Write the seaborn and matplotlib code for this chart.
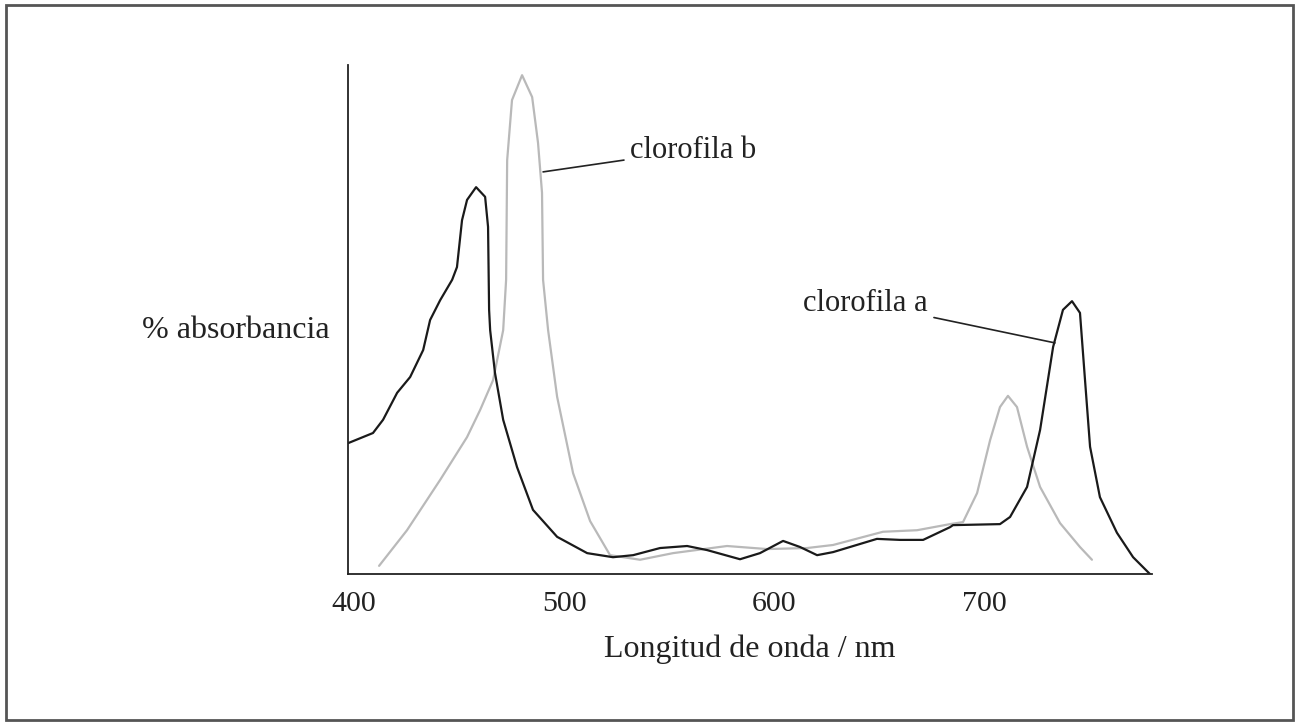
import matplotlib
matplotlib.use('Agg')
import matplotlib.pyplot as plt
import seaborn as sns
import pandas as pd
from matplotlib.patches import Rectangle
from matplotlib.ticker import FixedLocator

# valores (longitud de onda en nm, absorbancia relativa)
nm_a = [397.1, 409.0, 413.8, 420.5, 426.7, 432.9, 436.2, 441.0, 446.7, 449.0, 451.4, 453.8,
        458.1, 462.4, 463.8, 464.3, 464.8, 467.1, 471.0, 477.6, 485.2, 496.7, 511.0, 523.3,
        532.9, 545.7, 558.6, 568.1, 583.8, 593.3, 604.3, 612.4, 620.5, 628.1, 649.0, 660.0,
        671.0, 683.8, 685.2, 707.6, 712.4, 720.5, 726.7, 732.9, 737.6, 741.9, 745.7, 748.1,
        750.5, 755.2, 763.3, 771.0, 779.0]
abs_a = [25.7, 27.7, 30.3, 35.6, 38.7, 44.0, 49.9, 53.8, 57.8, 60.3, 69.5, 73.5,
         76.0, 74.1, 68.2, 51.9, 47.9, 39.5, 30.3, 21.0, 12.6, 7.3, 4.1, 3.3,
         3.7, 5.1, 5.5, 4.7, 2.9, 4.1, 6.5, 5.3, 3.7, 4.3, 6.9, 6.7,
         6.7, 9.2, 9.6, 9.8, 11.2, 17.1, 28.3, 44.6, 51.9, 53.6, 51.3, 38.1,
         25.0, 15.1, 8.1, 3.3, 0.0]

nm_b = [411.9, 425.2, 441.0, 453.8, 460.0, 466.2, 471.0, 472.4, 472.9, 475.2, 480.0, 484.8,
        487.6, 489.5, 490.0, 492.4, 496.7, 504.3, 512.4, 521.9, 536.2, 551.9, 577.6, 596.7,
        615.7, 628.1, 651.9, 668.1, 683.8, 690.0, 696.7, 702.9, 707.6, 711.4, 715.7, 720.5,
        726.7, 736.2, 745.7, 751.4]
abs_b = [1.6, 8.6, 18.5, 26.9, 32.2, 38.1, 47.9, 57.8, 81.3, 93.1, 98.0, 93.7,
         84.7, 74.9, 57.8, 47.9, 34.8, 19.8, 10.4, 3.7, 2.8, 4.1, 5.5, 4.9,
         5.1, 5.7, 8.3, 8.6, 9.8, 10.2, 15.9, 26.3, 32.8, 35.0, 32.8, 25.0,
         17.1, 10.0, 5.3, 2.8]

ticks = [400, 500, 600, 700]
tick_labels = ['400', '500', '600', '700']

df_a = pd.DataFrame({'nm': nm_a, 'abs': abs_a})
df_b = pd.DataFrame({'nm': nm_b, 'abs': abs_b})

sns.set_style('white')
plt.rcParams['font.family'] = ['Liberation Serif', 'DejaVu Serif']

fig = plt.figure(figsize=(13, 7.26), dpi=100)
ax = fig.add_axes([348 / 1300, 1 - 574 / 726, 804 / 1300, 509 / 726])

sns.lineplot(data=df_b, x='nm', y='abs', ax=ax, color='#b9b9b9', linewidth=1.6, sort=False,
             solid_joinstyle='round')
sns.lineplot(data=df_a, x='nm', y='abs', ax=ax, color='#1a1a1a', linewidth=1.6, sort=False,
             solid_joinstyle='round')

ax.set_xlim(397.1, 780)
ax.set_ylim(0, 100)
sns.despine(ax=ax)
for s in ['left', 'bottom']:
    ax.spines[s].set_color('#222222')
    ax.spines[s].set_linewidth(1.3)

ax.set_xticks(ticks)
ax.set_xticklabels(tick_labels, fontsize=21.5, color='#222222')
ax.tick_params(axis='x', which='major', length=0, pad=12)
ax.xaxis.set_minor_locator(FixedLocator([400]))
ax.tick_params(axis='x', which='minor', length=10, width=1.2, color='#222222', bottom=True)
ax.set_yticks([])
ax.set_xlabel('Longitud de onda / nm', fontsize=23, color='#222222', labelpad=13)
ax.set_ylabel('')

fig.text(330 / 1300, 1 - 330 / 726, '% absorbancia', fontsize=23, color='#222222',
         ha='right', va='center')

ax.annotate('clorofila b', xy=(490.0, 79.0), xytext=(531.4, 83.3), fontsize=22,
            color='#222222', va='center', ha='left',
            arrowprops=dict(arrowstyle='-', color='#222222', lw=1.2, shrinkA=2, shrinkB=0))
ax.annotate('clorofila a', xy=(733.8, 45.4), xytext=(673.3, 53.2), fontsize=22,
            color='#222222', va='center', ha='right',
            arrowprops=dict(arrowstyle='-', color='#222222', lw=1.2, shrinkA=2, shrinkB=0))

# marco exterior
fig.patches.append(Rectangle((6 / 1300, 6 / 726), 1287 / 1300, 715 / 726,
                             transform=fig.transFigure, fill=False,
                             edgecolor='#555555', linewidth=2))

fig.savefig('out.png', dpi=100)
